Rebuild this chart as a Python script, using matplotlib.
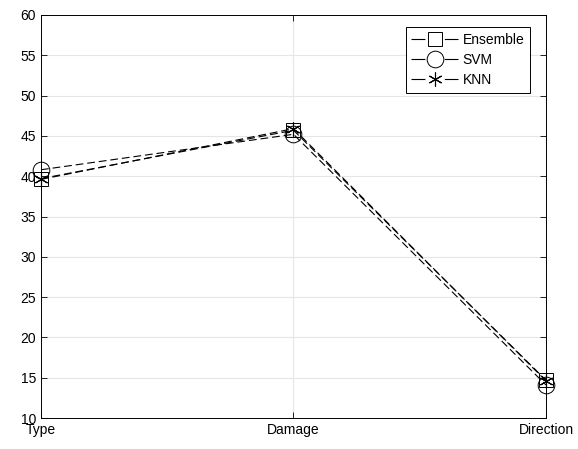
import matplotlib
matplotlib.use("Agg")
import matplotlib.pyplot as plt

plt.rcParams["font.family"] = ["Liberation Sans", "DejaVu Sans"]

categories = ["Type", "Damage", "Direction"]
ensemble = [39.7, 45.7, 14.7]
svm = [40.8, 45.2, 14.1]
knn = [39.6, 45.9, 14.6]

fig = plt.figure(figsize=(5.78, 4.49), dpi=100)
ax = fig.add_axes([0.0709, 0.069, 0.8737, 0.8976])

x = list(range(len(categories)))
style = dict(color="black", ls="--", lw=0.8, dashes=(7, 3.5), clip_on=False)
ax.plot(x, ensemble, marker="s", ms=10, mfc="none", mew=0.7, label="Ensemble", **style)
ax.plot(x, svm, marker="o", ms=12, mfc="none", mew=0.7, label="SVM", **style)
ax.plot(x, knn, marker=(6, 2, 0), ms=10, mew=0.8, label="KNN", **style)

ax.set_xlim(0, 2)
ax.set_ylim(10, 60)
ax.set_xticks(x)
ax.set_xticklabels(categories)
ax.set_yticks(range(10, 61, 5))
ax.grid(True, color="#e6e6e6", lw=0.8)
ax.set_axisbelow(True)
ax.tick_params(direction="in", labelsize=10, length=4, width=0.6, top=True, right=True,
               labeltop=False, labelright=False)
for s in ax.spines.values():
    s.set_linewidth(0.7)

leg = ax.legend(loc="upper right", bbox_to_anchor=(0.968, 0.970), fontsize=10, frameon=True, fancybox=False,
                edgecolor="black", framealpha=1, handlelength=3.4, borderpad=0.4, labelspacing=0.45,
                handletextpad=0.3, borderaxespad=0)
leg.get_frame().set_linewidth(0.7)
# matlab-like legend handles: short dash, marker, short dash
for ln in leg.get_lines():
    ln.set_dashes((12.5, 17.5))

fig.savefig("out.png", dpi=100)
